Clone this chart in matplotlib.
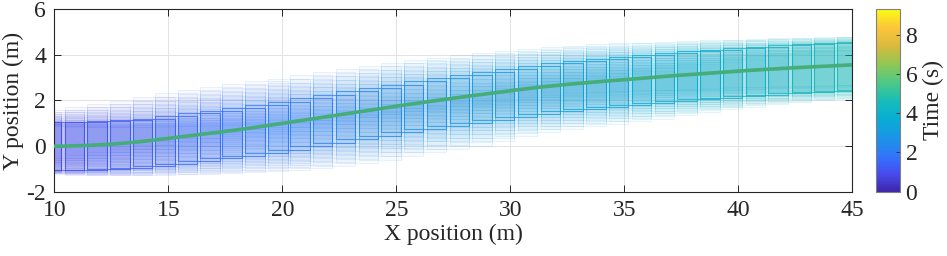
import matplotlib
matplotlib.use('Agg')
import matplotlib.pyplot as plt
from matplotlib.colors import LinearSegmentedColormap, Normalize
from matplotlib.cm import ScalarMappable
from matplotlib.patches import Rectangle

plt.rcParams['font.family'] = 'Liberation Serif'
plt.rcParams['axes.unicode_minus'] = False

# rear edge of the footprint at each step (m)
step_x = [8.45, 9.45, 10.45, 11.45, 12.44, 13.44, 14.43, 15.41, 16.39, 17.37,
          18.38, 19.36, 20.35, 21.36, 22.35, 23.35, 24.34, 25.34, 26.34, 27.34,
          28.33, 29.33, 30.33, 31.33, 32.33, 33.33, 34.33, 35.33, 36.33, 37.33,
          38.33, 39.33, 40.33, 41.32, 42.34, 43.33, 44.34, 45.34]
# lateral position of the trajectory at each step (m)
step_y = [-0.01, -0.01, 0.0, 0.03, 0.08, 0.16, 0.27, 0.39, 0.51, 0.63,
          0.76, 0.90, 1.05, 1.20, 1.35, 1.50, 1.65, 1.80, 1.94, 2.08,
          2.21, 2.34, 2.47, 2.59, 2.69, 2.78, 2.86, 2.94, 3.02, 3.10,
          3.17, 3.24, 3.31, 3.37, 3.43, 3.48, 3.53, 3.58]
# time of each step (s)
step_t = [0.90, 1.00, 1.10, 1.20, 1.30, 1.40, 1.50, 1.60, 1.70, 1.80,
          1.90, 2.00, 2.10, 2.20, 2.30, 2.40, 2.50, 2.60, 2.70, 2.80,
          2.90, 3.00, 3.10, 3.20, 3.30, 3.40, 3.50, 3.60, 3.70, 3.80,
          3.90, 4.00, 4.10, 4.20, 4.30, 4.40, 4.50, 4.60]
# spread of the occupancy set above / below the footprint (m)
band_up = [0.45, 0.55, 0.65, 0.75, 0.85, 0.93, 0.99, 1.02, 1.05, 1.05,
           1.03, 1.00, 1.00, 0.99, 0.98, 0.97, 0.96, 0.93, 0.89, 0.85,
           0.82, 0.79, 0.75, 0.71, 0.67, 0.63, 0.59, 0.55, 0.51, 0.47,
           0.42, 0.38, 0.35, 0.31, 0.27, 0.24, 0.22, 0.20]
band_down = [0.10, 0.17, 0.20, 0.25, 0.30, 0.36, 0.45, 0.57, 0.65, 0.73,
             0.81, 0.90, 0.97, 1.02, 1.04, 1.05, 1.05, 1.03, 1.03, 1.03,
             0.95, 0.85, 0.80, 0.77, 0.75, 0.74, 0.71, 0.68, 0.62, 0.57,
             0.51, 0.46, 0.42, 0.39, 0.37, 0.37, 0.38, 0.38]

car_len = 1.85
car_wid = 2.1
n_stack = 6

parula = LinearSegmentedColormap.from_list('parula', [
    (0.00, (0.2422, 0.1504, 0.6603)),
    (0.10, (0.2780, 0.3000, 0.9400)),
    (0.20, (0.1900, 0.4700, 0.9800)),
    (0.30, (0.1000, 0.5900, 0.9000)),
    (0.40, (0.0300, 0.6800, 0.8300)),
    (0.50, (0.1000, 0.7400, 0.7200)),
    (0.60, (0.3000, 0.7900, 0.5200)),
    (0.70, (0.5700, 0.7800, 0.3300)),
    (0.80, (0.8500, 0.7300, 0.2400)),
    (0.90, (0.9900, 0.7700, 0.2300)),
    (1.00, (0.9769, 0.9839, 0.0805))])
norm = Normalize(0, 9.3)

fig = plt.figure(figsize=(9.47, 2.56), dpi=100)
ax = fig.add_axes([54.3 / 947, 0.2512, 798 / 947, 0.7125])

for x, y, t, up, dn in zip(step_x, step_y, step_t, band_up, band_down):
    r, g, b, _ = parula(norm(t))
    offs = [up * i / n_stack for i in range(1, n_stack + 1)]
    offs += [-dn * i / n_stack for i in range(1, n_stack + 1)]
    for o in offs:
        ax.add_patch(Rectangle((x, y + o - car_wid / 2), car_len, car_wid,
                               facecolor=(r, g, b, 0.026), edgecolor=(r, g, b, 0.14),
                               linewidth=0.5, zorder=2))
    ax.add_patch(Rectangle((x, y - car_wid / 2), car_len, car_wid,
                           facecolor=(r, g, b, 0.05), edgecolor=(r, g, b, 0.75),
                           linewidth=0.8, zorder=2))

ax.plot(step_x, step_y, color='#44ad78', linewidth=2.6, zorder=3)

ax.set_xlim(10, 45)
ax.set_ylim(-2, 6)
ax.set_xticks(range(10, 46, 5))
ax.set_yticks(range(-2, 7, 2))
ax.grid(True, color='#e3e3e3', linewidth=0.7, zorder=0)
ax.set_axisbelow(True)
ax.tick_params(direction='in', top=True, right=True, length=5, width=0.7,
               labelsize=17, colors='#262626', pad=6)
for s in ax.spines.values():
    s.set_color('#262626')
    s.set_linewidth(0.8)
ax.set_xlabel('X position (m)', fontsize=17, color='#262626', labelpad=2)
ax.set_ylabel('Y position (m)', fontsize=17, color='#262626', labelpad=2)

cax = fig.add_axes([876 / 947, 0.2512, 24 / 947, 0.7125])
cb = fig.colorbar(ScalarMappable(norm=norm, cmap=parula), cax=cax)
cb.set_ticks([0, 2, 4, 6, 8])
cb.ax.tick_params(direction='in', length=3, width=0.6, labelsize=17,
                  colors='#262626', pad=4)
cb.outline.set_edgecolor('#808080')
cb.outline.set_linewidth(0.8)
cb.set_label('Time (s)', fontsize=17, color='#262626', labelpad=4)

fig.savefig('out.png', dpi=100)
